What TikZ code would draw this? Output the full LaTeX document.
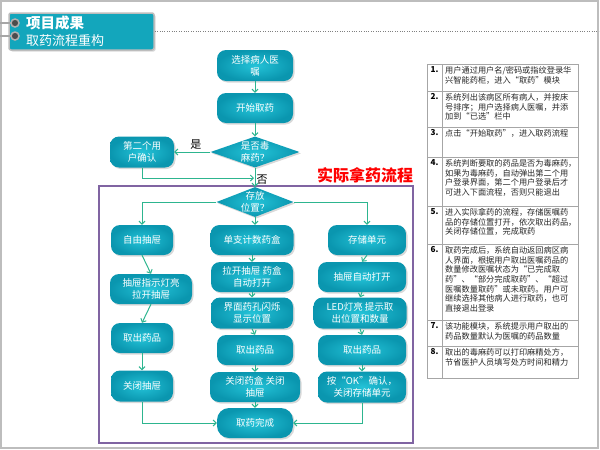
\documentclass[tikz,border=0pt]{standalone}
\usepackage{fontspec}
\setmainfont{Noto Sans CJK SC}
\usepackage{xcolor}
\usepackage{tikz}
\usetikzlibrary{arrows, arrows.meta}
\usetikzlibrary{positioning}
\usetikzlibrary{calc}
\usetikzlibrary{shapes.geometric}
\usetikzlibrary{shadows}
\definecolor{boxLight}{HTML}{24C3D8}
\definecolor{boxDark}{HTML}{0A96AF}
\definecolor{lineGreen}{HTML}{2DB58F}
\definecolor{frameGray}{HTML}{BDBDBD}
\definecolor{tableGray}{HTML}{A6A6A6}
\definecolor{boxPurple}{HTML}{8064A2}
\definecolor{headTeal}{HTML}{13A6BC}

\begin{document}
\begin{tikzpicture}[x=1pt, y=-1pt,
	flowbox/.style={rectangle, rounded corners=9pt, inner color=boxLight, outer color=boxDark, text=white, align=center, font=\fontsize{9.5}{12}\selectfont, inner sep=1pt, minimum height=30pt, drop shadow={opacity=0.3, shadow xshift=1.5pt, shadow yshift=-1.5pt}},
	flowchoice/.style={diamond, inner color=boxLight, outer color=boxDark, inner sep=0pt, drop shadow={opacity=0.3, shadow xshift=1.5pt, shadow yshift=-1.5pt}},
	choicetext/.style={text=white, align=center, font=\fontsize{9.5}{12}\selectfont},
	flowarrow/.style={->, draw=lineGreen, line width=1pt},
	rownum/.style={anchor=north, inner xsep=1pt, inner ysep=2.5pt, font=\fontsize{8.2}{9.6}\selectfont\bfseries},
	rowtext/.style={anchor=north west, align=left, inner xsep=3pt, inner ysep=2.5pt, text=black!85, font=\fontsize{8.2}{9.6}\selectfont},
	>={Straight Barb[length=3pt, width=6pt]}]
	\newcommand\colLeft{142}
	\newcommand\colMid{255}
	\newcommand\colRight{362}
	\useasboundingbox (0,0) rectangle (600,450);
	\draw[frameGray, line width=1.5pt] (1,1) rectangle (598,448);
	% title tab
	\node[rectangle, rounded corners=2pt, fill=headTeal, draw=frameGray, line width=1.5pt, minimum width=145pt, minimum height=37pt, drop shadow={opacity=0.3, shadow xshift=1.5pt, shadow yshift=-1.5pt}] (head) at (81.5,31.5) {};
	\draw[gray!70, line width=2pt] (0,23) -- (14,23);
	\draw[gray!70, line width=2pt] (0,36) -- (14,36);
	\node[circle, draw=gray!60, fill=black!70, line width=1.5pt, minimum size=8pt, inner sep=0pt] (ring1) at (15,23) {};
	\node[circle, draw=gray!60, fill=black!70, line width=1.5pt, minimum size=8pt, inner sep=0pt] (ring2) at (15,36) {};
	\node[anchor=west, text=white, inner sep=0pt, font=\fontsize{14.5}{15}\selectfont\bfseries] (headOne) at (26,23) {项目成果};
	\node[anchor=west, text=white, inner sep=0pt, font=\fontsize{13}{14}\selectfont] (headTwo) at (26,41) {取药流程重构};
	\draw[gray, dotted] (head.east) -- ++(444,0);
	% flow chart
	\draw[boxPurple, line width=1.2pt] (99,186) rectangle (413,443);
	\node[font=\fontsize{16}{16}\selectfont\bfseries, text=red] (flowTitle) at (365,175) {实际拿药流程};
	\node[flowbox, minimum width=76pt, minimum height=31pt] (node1) at (\colMid,65.5) {选择病人医\\嘱};
	\node[flowbox, minimum width=76pt] (node2) at (\colMid,108) {开始取药};
	\node[flowchoice, minimum width=89pt, minimum height=31pt, label={[choicetext]center:是否毒\\麻药？}] (node3) at (\colMid,152) {};
	\node[flowbox, minimum width=64pt, minimum height=31pt] (node4) at (\colLeft,152) {第二个用\\户确认};
	\node[flowchoice, minimum width=77pt, minimum height=30pt, label={[choicetext]center:存放\\位置？}] (node5) at (\colMid,202) {};
	\node[flowbox, minimum width=62pt] (node6) at (\colLeft,240) {自由抽屉};
	\node[flowbox, minimum width=83pt] (node7) at (252,240) {单支计数药盒};
	\node[flowbox, minimum width=78pt] (node8) at (367,240) {存储单元};
	\node[flowbox, minimum width=82pt] (node9) at (151,289) {抽屉指示灯亮\\拉开抽屉};
	\node[flowbox, minimum width=62pt] (node10) at (\colLeft,338) {取出药品};
	\node[flowbox, minimum width=62pt, minimum height=31pt] (node11) at (\colLeft,386) {关闭抽屉};
	\node[flowbox, minimum width=82pt] (node12) at (252,277) {拉开抽屉 药盒\\自动打开};
	\node[flowbox, minimum width=82pt, minimum height=31pt] (node13) at (252,313) {界面药孔闪烁\\显示位置};
	\node[flowbox, minimum width=76pt] (node14) at (\colMid,350) {取出药品};
	\node[flowbox, minimum width=90pt] (node15) at (\colMid,387) {关闭药盒 关闭\\抽屉};
	\node[flowbox, minimum width=76pt, rounded corners=12pt] (node16) at (\colMid,423) {取药完成};
	\node[flowbox, minimum width=88pt] (node17) at (\colRight,277) {抽屉自动打开};
	\node[flowbox, minimum width=93pt, minimum height=31pt] (node18) at (360,313) {LED灯亮 提示取\\出位置和数量};
	\node[flowbox, minimum width=88pt] (node19) at (\colRight,350) {取出药品};
	\node[flowbox, minimum width=88pt, minimum height=31pt] (node20) at (\colRight,387) {按“OK”确认，\\关闭存储单元};
	\coordinate (join1) at (254,178);
	\draw[flowarrow] (node1) -- (node2);
	\draw[flowarrow] (node2) -- (node3);
	\draw[flowarrow] (node3.west) -- node[above, pos=0.4, text=black, font=\fontsize{11}{11}\selectfont, inner sep=2pt] (labelYes) {是} (node4.east);
	\draw[flowarrow] (node4.south) |- (join1);
	\draw[flowarrow] (node3.south) -- node[right, pos=0.62, text=black, font=\fontsize{11}{11}\selectfont, inner sep=1pt] (labelNo) {否} (node5.north);
	\draw[flowarrow] (node5.west) -| (node6.north);
	\draw[flowarrow] (node5.south) -- (node5.south |- node7.north);
	\draw[flowarrow] (node5.east) -| (node8.north);
	\draw[flowarrow] (node6.south) -- (node9.north);
	\draw[flowarrow] (node9.south) -- (node10.north);
	\draw[flowarrow] (node10) -- (node11);
	\draw[flowarrow] (node11.south) |- (node16.west);
	\draw[flowarrow] (node7) -- (node12);
	\draw[flowarrow] (node12) -- (node13);
	\draw[flowarrow] (node13.south) -- (node14.north);
	\draw[flowarrow] (node14) -- (node15);
	\draw[flowarrow] (node15) -- (node16);
	\draw[flowarrow] (node8.south) -- (node17.north);
	\draw[flowarrow] (node17.south) -- (node18.north);
	\draw[flowarrow] (node18.south) -- (node19.north);
	\draw[flowarrow] (node19) -- (node20);
	\draw[flowarrow] (node20.south) |- (node16.east);
	% notes table
	\draw[tableGray] (427,64) rectangle (578,378);
	\draw[tableGray] (442,64) -- (442,378);
	\foreach \y in {91,127,157,206,244,320,346}
		\draw[tableGray] (427,\y) -- (578,\y);
	\node[rownum] (num1) at (434.5,64) {1.};
	\node[rowtext] (row1) at (442,64) {用户通过用户名/密码或指纹登录华\\兴智能药柜，进入“取药”模块};
	\node[rownum] (num2) at (434.5,91) {2.};
	\node[rowtext] (row2) at (442,91) {系统列出该病区所有病人，并按床\\号排序；用户选择病人医嘱，并添\\加到“已选”栏中};
	\node[rownum] (num3) at (434.5,127) {3.};
	\node[rowtext] (row3) at (442,127) {点击“开始取药”，进入取药流程};
	\node[rownum] (num4) at (434.5,157) {4.};
	\node[rowtext] (row4) at (442,157) {系统判断要取的药品是否为毒麻药，\\如果为毒麻药，自动弹出第二个用\\户登录界面，第二个用户登录后才\\可进入下面流程，否则只能退出};
	\node[rownum] (num5) at (434.5,206) {5.};
	\node[rowtext] (row5) at (442,206) {进入实际拿药的流程，存储医嘱药\\品的存储位置打开，依次取出药品，\\关闭存储位置，完成取药};
	\node[rownum] (num6) at (434.5,244) {6.};
	\node[rowtext] (row6) at (442,244) {取药完成后，系统自动返回病区病\\人界面，根据用户取出医嘱药品的\\数量修改医嘱状态为“已完成取\\药”、“部分完成取药”、“超过\\医嘱数量取药”或未取药。用户可\\继续选择其他病人进行取药，也可\\直接退出登录};
	\node[rownum] (num7) at (434.5,320) {7.};
	\node[rowtext] (row7) at (442,320) {该功能模块，系统提示用户取出的\\药品数量默认为医嘱的药品数量};
	\node[rownum] (num8) at (434.5,346) {8.};
	\node[rowtext] (row8) at (442,346) {取出的毒麻药可以打印麻精处方，\\节省医护人员填写处方时间和精力};
\end{tikzpicture}
\end{document}
